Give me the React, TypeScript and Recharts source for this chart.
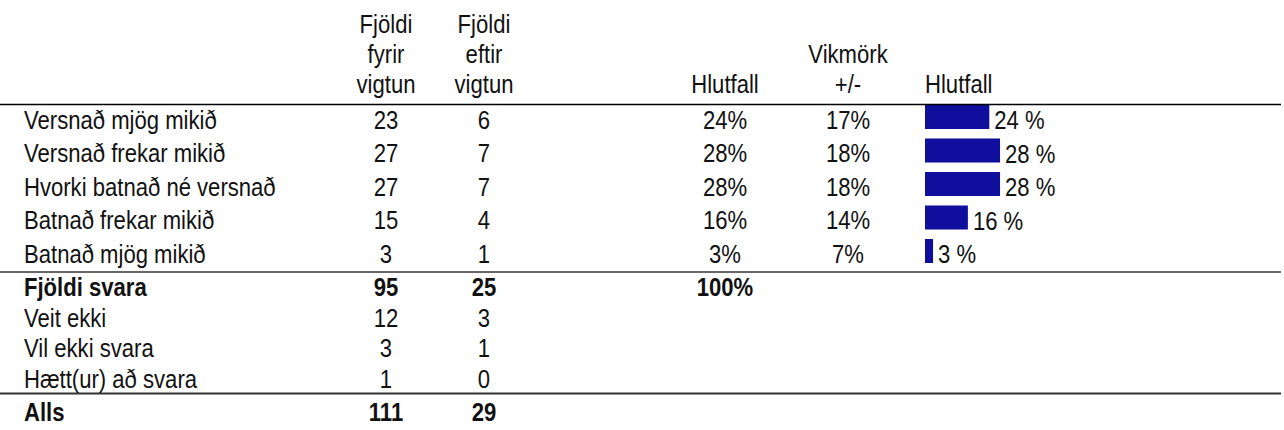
import { BarChart, Bar, XAxis, YAxis, LabelList } from "recharts";

const categories = [
  "Versnað mjög mikið",
  "Versnað frekar mikið",
  "Hvorki batnað né versnað",
  "Batnað frekar mikið",
  "Batnað mjög mikið",
];
const fyrirVigtun = [23, 27, 27, 15, 3];
const eftirVigtun = [6, 7, 7, 4, 1];
const hlutfall = [24, 28, 28, 16, 3];
const vikmork = [17, 18, 18, 14, 7];

const summaryLabels = ["Fjöldi svara", "Veit ekki", "Vil ekki svara", "Hætt(ur) að svara", "Alls"];
const summaryFyrir = [95, 12, 3, 1, 111];
const summaryEftir = [25, 3, 1, 0, 29];
const summaryHlutfall = ["100%", "", "", "", ""];
const summaryBold = [true, false, false, false, true];

// no narrow face installed, so squeeze Liberation Sans horizontally
const FONT = "'Liberation Sans', Arial, sans-serif";
const FS = 26;
const SX = 0.85;
const INK = "#111";
const BAR = "#100e9c";

// column x positions
const COL_LABEL = 24;
const COL_FYRIR = 386;
const COL_EFTIR = 484;
const COL_HLUT = 725;
const COL_VIK = 848;
const BAR_X = 925;

const data = categories.map((label, i) => ({
  label,
  fyrir: fyrirVigtun[i],
  eftir: eftirVigtun[i],
  hlutfall: hlutfall[i],
  vikmork: vikmork[i],
}));

function NText({
  x,
  y,
  children,
  anchor = "middle",
  bold = false,
}: {
  x: number;
  y: number;
  children: any;
  anchor?: "start" | "middle" | "end";
  bold?: boolean;
}) {
  return (
    <text
      transform={`translate(${x},${y}) scale(${SX},1)`}
      x={0}
      y={0}
      textAnchor={anchor}
      fontFamily={FONT}
      fontSize={FS}
      fontWeight={bold ? 700 : 400}
      fill={INK}
    >
      {children}
    </text>
  );
}

function RowTick(props: any) {
  const { y, index } = props;
  const d = data[index];
  const by = y + 12;
  return (
    <g>
      <NText x={COL_LABEL} y={by} anchor="start">{d.label}</NText>
      <NText x={COL_FYRIR} y={by}>{d.fyrir}</NText>
      <NText x={COL_EFTIR} y={by}>{d.eftir}</NText>
      <NText x={COL_HLUT} y={by}>{`${d.hlutfall}%`}</NText>
      <NText x={COL_VIK} y={by}>{`${d.vikmork}%`}</NText>
    </g>
  );
}

function BarValue(props: any) {
  const { x, y, width, height, value } = props;
  return (
    <NText x={x + width + 5} y={y + height / 2 + 12} anchor="start">
      {`${value} %`}
    </NText>
  );
}

const summaryY = [296, 326.5, 357, 388, 421];

export default function App() {
  return (
    <div style={{ position: "absolute", left: 0, top: 0, width: 1284, height: 430, background: "#fff" }}>
      <BarChart
        width={1284}
        height={430}
        data={data}
        layout="vertical"
        margin={{ top: 100, right: 91, bottom: 162.5, left: 0 }}
      >
        <XAxis type="number" domain={[0, 100]} hide />
        <YAxis
          type="category"
          dataKey="label"
          width={BAR_X}
          axisLine={false}
          tickLine={false}
          tick={<RowTick />}
          interval={0}
        />
        <Bar dataKey="hlutfall" fill={BAR} barSize={24} isAnimationActive={false}>
          <LabelList dataKey="hlutfall" content={<BarValue />} />
        </Bar>
      </BarChart>
      <svg
        width={1284}
        height={430}
        style={{ position: "absolute", left: 0, top: 0, pointerEvents: "none" }}
      >
        <NText x={COL_FYRIR} y={33}>Fjöldi</NText>
        <NText x={COL_FYRIR} y={63}>fyrir</NText>
        <NText x={COL_FYRIR} y={93}>vigtun</NText>
        <NText x={COL_EFTIR} y={33}>Fjöldi</NText>
        <NText x={COL_EFTIR} y={63}>eftir</NText>
        <NText x={COL_EFTIR} y={93}>vigtun</NText>
        <NText x={COL_HLUT} y={93}>Hlutfall</NText>
        <NText x={COL_VIK} y={63}>Vikmörk</NText>
        <NText x={COL_VIK} y={93}>+/-</NText>
        <NText x={BAR_X} y={93} anchor="start">Hlutfall</NText>
        <line x1={0} x2={1281} y1={104.5} y2={104.5} stroke="#000" strokeWidth={1.5} />
        <line x1={0} x2={1281} y1={272} y2={272} stroke="#666" strokeWidth={2.2} />
        <line x1={0} x2={1281} y1={393.5} y2={393.5} stroke="#333" strokeWidth={1.8} />
        {summaryLabels.map((l, i) => (
          <g key={l}>
            <NText x={COL_LABEL} y={summaryY[i]} anchor="start" bold={summaryBold[i]}>{l}</NText>
            <NText x={COL_FYRIR} y={summaryY[i]} bold={summaryBold[i]}>{summaryFyrir[i]}</NText>
            <NText x={COL_EFTIR} y={summaryY[i]} bold={summaryBold[i]}>{summaryEftir[i]}</NText>
            {summaryHlutfall[i] && (
              <NText x={COL_HLUT} y={summaryY[i]} bold={summaryBold[i]}>{summaryHlutfall[i]}</NText>
            )}
          </g>
        ))}
      </svg>
    </div>
  );
}
